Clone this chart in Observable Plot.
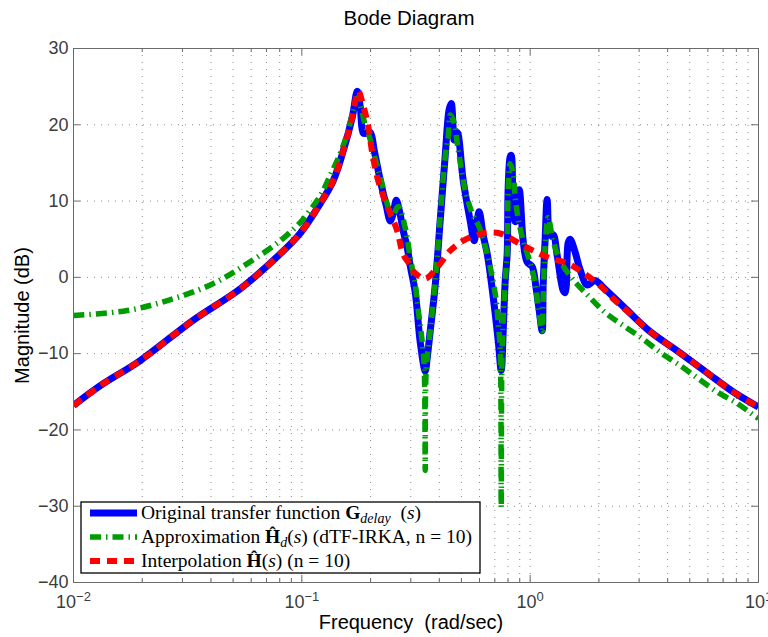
<!DOCTYPE html>
<html>
<head>
<meta charset="utf-8">
<script src="https://cdn.jsdelivr.net/npm/d3@7"></script>
<script src="https://cdn.jsdelivr.net/npm/@observablehq/plot@0.6"></script>
<style>
  html, body { margin: 0; padding: 0; background: #fff; }
  #chart { width: 768px; height: 637px; }
</style>
</head>
<body>
<div id="chart"></div>
<script>
// Original transfer function G_delay(s): frequency (rad/sec) and magnitude (dB)
const freqOriginal = [0.01, 0.0131, 0.0196, 0.0335, 0.0538, 0.0805, 0.0985, 0.1205, 0.1374, 0.1519,
  0.1663, 0.1749, 0.1803, 0.1858, 0.1915, 0.1994, 0.2076, 0.2206, 0.2343, 0.2439,
  0.2514, 0.2591, 0.2672, 0.2780, 0.2894, 0.2984, 0.3139, 0.3300, 0.3471, 0.3542,
  0.3651, 0.3839, 0.4037, 0.4246, 0.4417, 0.4511, 0.4602, 0.4649, 0.4792, 0.5091,
  0.5462, 0.5686, 0.5861, 0.5980, 0.6227, 0.6483, 0.6889, 0.7245, 0.7467, 0.7619,
  0.7773, 0.7931, 0.8012, 0.8175, 0.8258, 0.8425, 0.8598, 0.8951, 0.9319, 0.9702,
  1.0203, 1.0623, 1.0949, 1.1285, 1.1399, 1.1631, 1.1870, 1.2233, 1.2608, 1.3126,
  1.3944, 1.4228, 1.4665, 1.4963, 1.5737, 1.6550, 1.7758, 1.9250, 2.0866, 2.6577,
  3.3508, 4.5334, 5.9506, 7.7342, 10];
const magOriginal = [-16.8, -14.2, -10.9, -5.6, -1.5, 3.1, 5.8, 9.7, 12.7, 16.6,
  21.0, 24.4, 22.3, 18.9, 18.9, 19.0, 16.6, 12.7, 9.4, 7.4,
  8.4, 10.1, 8.8, 6.1, 3.9, 1.5, -2.0, -8.5, -12.3, -10.5,
  -7.0, -1.0, 7.5, 16.0, 22.0, 22.8, 19.5, 18.0, 19.0, 12.7,
  7.4, 4.8, 7.5, 8.6, 5.5, 3.1, -2.6, -8.3, -12.2, -7.0,
  -0.5, 3.1, 11.8, 15.8, 16.0, 9.5, 7.3, 11.5, 4.8, 2.0,
  1.4, -1.5, -4.3, -7.0, -1.0, 5.0, 10.2, 5.5, 5.6, 2.9,
  -1.7, -2.0, 4.5, 5.0, 3.3, 1.0, -1.0, -0.4, -1.3, -4.3,
  -7.1, -9.9, -12.5, -15.0, -17.0];

// Approximation H_d(s) (dTF-IRKA, n = 10)
const freqApprox = [0.01, 0.0172, 0.0274, 0.0410, 0.0577, 0.0805, 0.0985, 0.1036, 0.1205, 0.1333,
  0.1475, 0.1598, 0.1749, 0.1840, 0.1896, 0.1954, 0.2140, 0.2206, 0.2366, 0.2489,
  0.2644, 0.2837, 0.2984, 0.3139, 0.3235, 0.3367, 0.3436, 0.3471, 0.3506, 0.3651,
  0.3839, 0.4037, 0.4246, 0.4377, 0.4466, 0.4649, 0.4792, 0.4990, 0.5194, 0.5573,
  0.5980, 0.6483, 0.6820, 0.7100, 0.7245, 0.7392, 0.7467, 0.7543, 0.7773, 0.7931,
  0.8012, 0.8175, 0.8425, 0.8598, 0.8860, 0.9319, 1.0, 1.0517, 1.0839, 1.1285,
  1.1399, 1.1631, 1.1990, 1.2608, 1.3529, 1.5268, 1.7938, 2.1291, 2.5527, 3.0914,
  3.7820, 4.5334, 5.4352, 6.6486, 8.0520, 9.6535, 10];
const magApprox = [-5.0, -4.35, -2.8, -0.8, 1.8, 4.8, 7.2, 8.0, 10.7, 13.4,
  16.3, 19.3, 23.5, 21.5, 19.9, 18.9, 14.5, 13.2, 9.6, 8.0,
  9.3, 6.5, 2.6, -1.0, -4.3, -8.5, -12.0, -25.3, -12.0, -7.0,
  -0.5, 8.0, 15.8, 18.5, 21.3, 20.2, 17.6, 14.3, 11.4, 8.4,
  6.6, 3.1, 0.0, -3.0, -6.0, -9.5, -30.2, -9.0, -0.5, 3.1,
  11.5, 14.9, 13.6, 10.5, 7.7, 4.8, 1.95, -0.8, -3.9, -7.0,
  -3.0, 3.9, 7.85, 4.8, 2.2, -0.15, -2.4, -4.6, -6.3, -8.0,
  -10.0, -11.55, -13.25, -15.1, -16.5, -18.2, -18.5];

// Interpolation H(s) (n = 10)
const freqInterp = [0.01, 0.0131, 0.0196, 0.0335, 0.0538, 0.0805, 0.0985, 0.1205, 0.1374, 0.1519,
  0.1663, 0.1767, 0.1858, 0.1954, 0.2034, 0.2140, 0.2273, 0.2439, 0.2617, 0.2780,
  0.2984, 0.3076, 0.3471, 0.3917, 0.4466, 0.5091, 0.6164, 0.7392, 0.8773, 1.0307,
  1.2233, 1.4665, 1.7058, 2.0245, 2.3080, 2.6577, 3.3508, 4.5334, 5.9506, 7.7342, 10];
const magInterp = [-16.8, -14.2, -10.9, -5.6, -1.5, 3.1, 5.8, 9.7, 12.7, 16.6,
  21.0, 24.4, 22.5, 19.8, 16.3, 13.1, 10.7, 8.4, 6.1, 3.0,
  1.6, 0.8, -0.15, 1.3, 3.5, 4.8, 5.75, 5.75, 4.6, 3.5,
  2.5, 1.8, 0.6, -1.1, -2.8, -4.4, -7.1, -9.9, -12.5, -15.0, -17.0];

// Axis ticks
const xMajorTicks = [0.01, 0.1, 1, 10];
const xMinorMultipliers = [2, 3, 4, 5, 6, 7, 8, 9];
const yTicks = [-40, -30, -20, -10, 0, 10, 20, 30];

const W = 768, H = 637;
const margin = {top: 48, right: 10, bottom: 55, left: 73};
const plotW = W - margin.left - margin.right;
const plotH = H - margin.top - margin.bottom;

const toRows = (fs, ms) => fs.map((f, i) => ({f, m: ms[i]}));
const original = toRows(freqOriginal, magOriginal);
const approx = toRows(freqApprox, magApprox);
const interp = toRows(freqInterp, magInterp);

const xMinorTicks = xMajorTicks.slice(0, -1).flatMap(d => xMinorMultipliers.map(k => +(d * k).toPrecision(3)));
const xGrid = [...xMinorTicks, ...xMajorTicks.slice(1, -1)];
const yGrid = yTicks.slice(1, -1);

const axisGray = "#6a6a6a";
const gridStyle = {stroke: "#8a8a8a", strokeWidth: 1, strokeDasharray: "1,6"};

const blue = "#0000ff", green = "#009c00", red = "#ff0000";
const greenDash = "11,5,1.5,5";
const redDash = "10,7";
const lineStyle = {curve: "catmull-rom", strokeLinejoin: "round", strokeLinecap: "butt", clip: true};

const svg = Plot.plot({
  width: W,
  height: H,
  marginTop: margin.top,
  marginRight: margin.right,
  marginBottom: margin.bottom,
  marginLeft: margin.left,
  style: {fontFamily: "'Liberation Sans', Arial, Helvetica, sans-serif", background: "#fff"},
  x: {type: "log", domain: [0.01, 10]},
  y: {domain: [-40, 30]},
  marks: [
    // dotted grid
    Plot.ruleX(xGrid, {x: d => d, ...gridStyle}),
    Plot.ruleY(yGrid, {y: d => d, ...gridStyle}),
    // curves
    Plot.line(original, {x: "f", y: "m", stroke: blue, strokeWidth: 7, ...lineStyle}),
    Plot.line(approx, {x: "f", y: "m", stroke: green, strokeWidth: 5.5, strokeDasharray: greenDash, ...lineStyle}),
    Plot.line(interp, {x: "f", y: "m", stroke: red, strokeWidth: 6, strokeDasharray: redDash, ...lineStyle}),
    // box and inward ticks
    Plot.frame({stroke: axisGray, strokeWidth: 1}),
    Plot.tickX(xMajorTicks, {x: d => d, stroke: axisGray, insetTop: plotH - 7}),
    Plot.tickX(xMajorTicks, {x: d => d, stroke: axisGray, insetBottom: plotH - 7}),
    Plot.tickX(xMinorTicks, {x: d => d, stroke: axisGray, insetTop: plotH - 4}),
    Plot.tickX(xMinorTicks, {x: d => d, stroke: axisGray, insetBottom: plotH - 4}),
    Plot.tickY(yTicks, {y: d => d, stroke: axisGray, insetRight: plotW - 7}),
    Plot.tickY(yTicks, {y: d => d, stroke: axisGray, insetLeft: plotW - 7}),
    // tick labels
    Plot.axisX({ticks: xMajorTicks, tickSize: 0, tickPadding: 13, label: null, fontSize: 18, fill: "#3c3c3c",
      tickFormat: d => String(Math.round(Math.log10(d))).replace("-", "\u2212")}),
    Plot.axisY({ticks: yTicks, tickSize: 0, tickPadding: 5, label: null, fontSize: 18, fill: "#3c3c3c"}),
    // title and axis labels
    Plot.text(["Bode Diagram"], {text: d => d, frameAnchor: "top", dx: -7, dy: -30, textAnchor: "middle", lineAnchor: "middle", fontSize: 20.5, fill: "#000"}),
    Plot.text(["Frequency\u00a0 (rad/sec)"], {text: d => d, frameAnchor: "bottom", dx: -5, dy: 40, textAnchor: "middle", lineAnchor: "middle", fontSize: 20, fill: "#000"}),
    Plot.text(["Magnitude (dB)"], {text: d => d, frameAnchor: "left", dx: -51, rotate: -90, textAnchor: "middle", lineAnchor: "middle", fontSize: 20, fill: "#000"})
  ]
});

// Powers of ten: "10" with a raised exponent
d3.select(svg).selectAll('g[aria-label="x-axis tick label"] text').each(function () {
  const exp = this.textContent;
  const t = d3.select(this);
  t.text(null);
  t.append("tspan").text("10");
  t.append("tspan").attr("dy", "-0.55em").attr("font-size", 13).text(exp);
});

// Legend
const legendEntries = [
  {stroke: blue, width: 7, dash: null,
    parts: [["Original transfer function ", ""], ["G", "b"], ["delay", "sub"], ["  (", ""], ["s", "i"], [")", ""]]},
  {stroke: green, width: 5.5, dash: greenDash,
    parts: [["Approximation ", ""], ["\u0124", "b"], ["d", "sub"], ["(", ""], ["s", "i"], [") (dTF-IRKA, n = 10)", ""]]},
  {stroke: red, width: 6, dash: redDash,
    parts: [["Interpolation ", ""], ["\u0124", "b"], ["(", ""], ["s", "i"], [") (n = 10)", ""]]}
];

const lg = d3.select(svg).append("g").attr("aria-label", "legend");
lg.append("rect").attr("x", 81).attr("y", 502).attr("width", 399).attr("height", 71)
  .attr("fill", "#fff").attr("stroke", "#000").attr("stroke-width", 1.3);
legendEntries.forEach((e, i) => {
  const cy = 513 + i * 24;
  lg.append("line").attr("x1", 90).attr("x2", 137).attr("y1", cy).attr("y2", cy)
    .attr("stroke", e.stroke).attr("stroke-width", e.width)
    .attr("stroke-dasharray", e.dash);
  const text = lg.append("text").attr("x", 141).attr("y", cy).attr("dy", "0.33em")
    .attr("text-anchor", "start")
    .style("white-space", "pre")
    .attr("font-family", "'Liberation Serif', 'Times New Roman', serif")
    .attr("font-size", 19.5).attr("fill", "#000");
  let shifted = false;
  e.parts.forEach(([s, kind]) => {
    const ts = text.append("tspan").text(s);
    if (kind === "b") ts.attr("font-weight", "bold");
    if (kind === "i") ts.attr("font-style", "italic");
    if (kind === "sub") {
      ts.attr("font-style", "italic").attr("font-size", 14).attr("dy", 4);
      shifted = true;
    } else if (shifted) {
      ts.attr("dy", -4);
      shifted = false;
    }
  });
});

document.getElementById("chart").appendChild(svg);
</script>
</body>
</html>
